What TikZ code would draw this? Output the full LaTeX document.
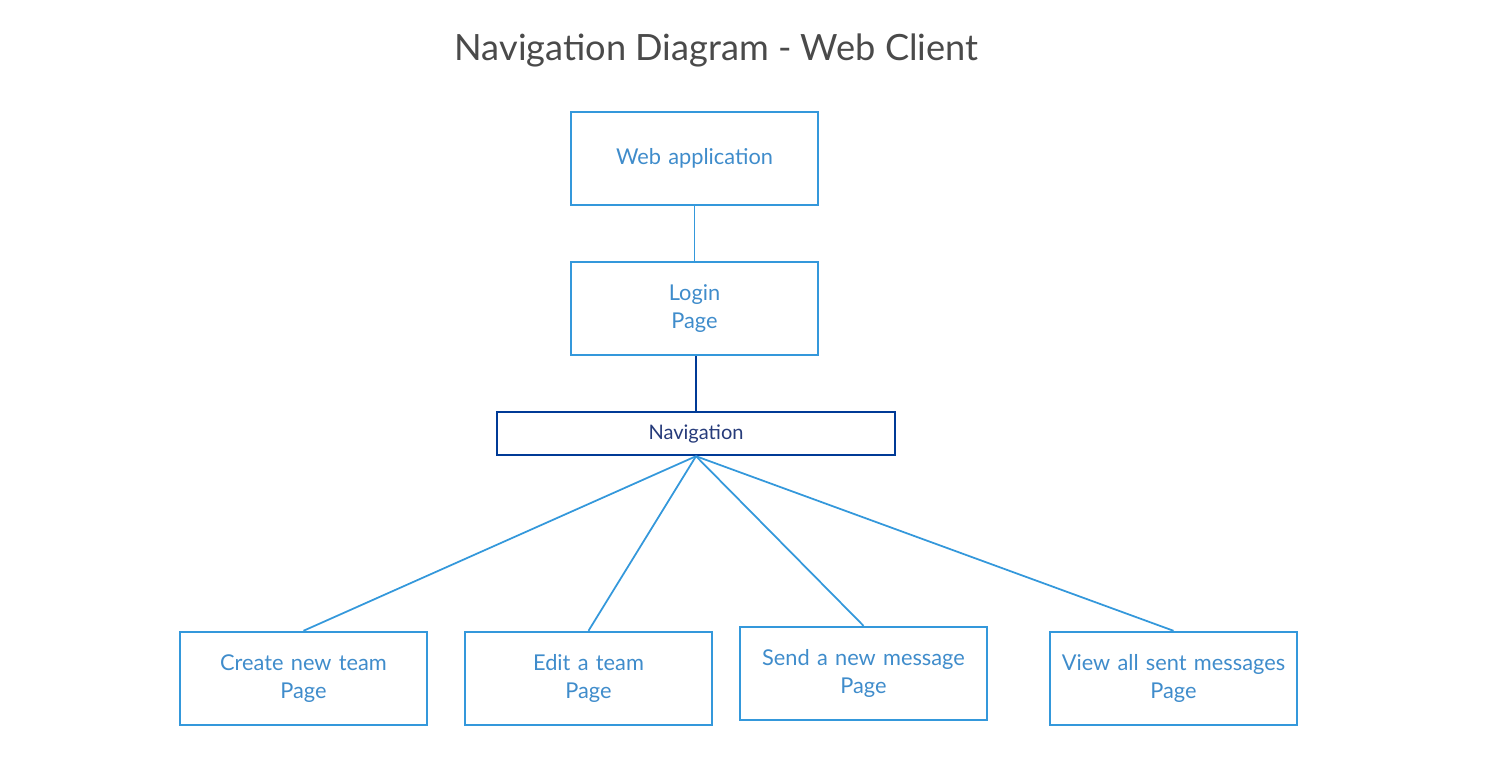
\documentclass[tikz,border=0pt]{standalone}
\usepackage{fontspec}
\setmainfont{Lato}
\usetikzlibrary{calc}
\definecolor{boxblue}{HTML}{3498DB}
\definecolor{textblue}{HTML}{3F8CCB}
\definecolor{navblue}{HTML}{003A96}
\definecolor{navtext}{HTML}{263B7A}
\definecolor{titlegrey}{HTML}{4A4A4A}
\tikzset{box/.style={draw=boxblue, rectangle, line width=1.1pt, text=textblue, text width=4.7cm, align=center, minimum width=4.86cm, minimum height=1.87cm, font=\fontsize{12.4}{15.9}\selectfont}}
\tikzset{navbox/.style={draw=navblue, rectangle, line width=1.1pt, text=navtext, minimum width=7.96cm, minimum height=0.87cm, font=\fontsize{11.4}{13}\selectfont}}
\tikzset{line/.style={draw=boxblue, line width=1pt}}
\tikzset{navline/.style={draw=navblue, line width=1.1pt}}

\begin{document}
\begin{tikzpicture}
\useasboundingbox (0,0) rectangle (29.92,-15.48);

\node [text=titlegrey, font=\fontsize{20.6}{24}\selectfont] (title) at (14.33,-1.0) {Navigation Diagram - Web Client};

\node [box] (web) at (13.89,-3.17) {Web application};
\node [box, below of=web, node distance=3cm] (login) {Login\\Page};
\node [navbox, below of=login, node distance=2.5cm, xshift=0.03cm] (nav) {Navigation};

\node [box, below of=nav, node distance=4.9cm, xshift=-7.85cm] (create) {Create new team\\Page};
\node [box, right of=create, node distance=5.7cm] (edit) {Edit a team\\Page};
\node [box, right of=edit, node distance=5.5cm, yshift=0.1cm] (send) {Send a new message\\Page};
\node [box, right of=edit, node distance=11.7cm] (view) {View all sent messages\\Page};

%TOP CHAIN
\path [line] (web) -- (login);
\path [navline] (login.south -| nav.north) -- (nav.north);

%NAVIGATION TO PAGES
\path [line] (nav.south) -- (create.north);
\path [line] (nav.south) -- (edit.north);
\path [line] (nav.south) -- (send.north);
\path [line] (nav.south) -- (view.north);

\end{tikzpicture}
\end{document}
